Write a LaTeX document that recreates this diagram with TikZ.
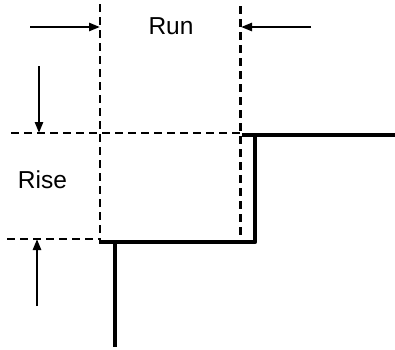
\documentclass[tikz,border=0pt]{standalone}
\usepackage{fontspec}
\setmainfont{Liberation Sans}
\usetikzlibrary{arrows.meta}
\begin{document}
\begin{tikzpicture}[x=1pt, y=-1pt, line join = round, >={Triangle[length=11pt,width=8pt]}]
	\tikzset{guide/.style={line width=2.2pt, dash pattern=on 8pt off 5pt},
		step line/.style={line width=4.5pt, line cap=rect},
		dim arrow/.style={->, line width=2.4pt},
		label style/.style={font=\fontsize{24.5}{28}\selectfont, inner sep=0pt}}
	\useasboundingbox (0,0) rectangle (395,349);
	% guide lines
	\coordinate (runL) at (100,27); \coordinate (runR) at (241,27);
	\coordinate (riseT) at (39,133); \coordinate (riseB) at (37,239);
	\draw[guide] (100,4) -- (100,240) (240.5,6) -- (240.5,242);
	\draw[guide] (11,133) -- (242,133) (7,239) -- (100,239);
	% step
	\draw[step line] (115,345) -- (115,242) (101,242) -- (255,242) -- (255,136);
	\draw[step line, line cap=butt] (242,135) -- (395,135);
	% run and rise
	\draw[dim arrow] (30,27) -- (runL);
	\draw[dim arrow] (311,27) -- (runR);
	\draw[dim arrow] (39,66) -- (riseT);
	\draw[dim arrow] (37,306) -- (riseB);
	\node[label style] (run) at (171,26.5) {Run};
	\node[label style] (rise) at (42.5,180) {Rise};
\end{tikzpicture}
\end{document}
